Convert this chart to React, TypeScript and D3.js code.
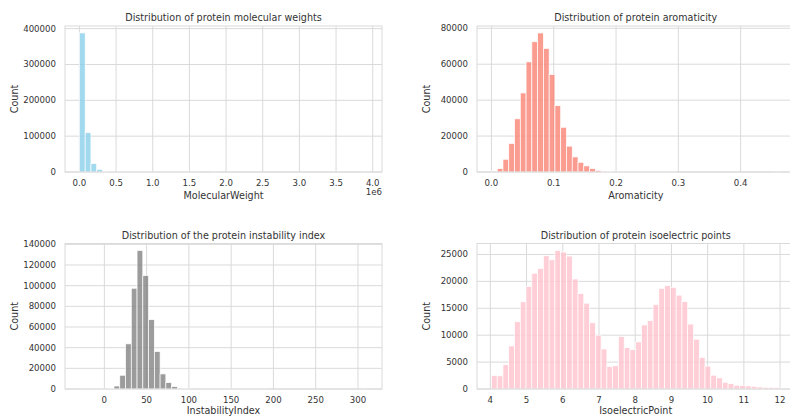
import * as d3 from "d3";

// bin ranges (min, max of the data) and counts per bin, 50 bins each
const mwRange = [0, 3.93e6];
const mwCounts = [
  388000, 110000, 23500, 7500, 1800, 600, 250, 120, 60, 35,
  20, 12, 8, 5, 4, 3, 2, 2, 1, 1,
  1, 0, 0, 1, 0, 0, 0, 0, 0, 0,
  0, 0, 0, 0, 0, 0, 0, 0, 0, 0,
  0, 0, 0, 0, 0, 0, 0, 0, 0, 1,
];

const aroRange = [0, 0.4633];
const aroCounts = [
  500, 1900, 7100, 15900, 29600, 44000, 61300, 72500, 77400, 68800,
  54300, 36900, 24900, 14400, 8400, 5400, 3400, 1900, 900, 450,
  220, 110, 60, 30, 16, 9, 5, 3, 2, 1,
  1, 1, 0, 0, 0, 0, 0, 0, 0, 0,
  0, 0, 0, 0, 0, 0, 0, 0, 0, 1,
];

const instRange = [-29.5, 311.4];
const instCounts = [
  1, 1, 2, 5, 40, 400, 2900, 13300, 43700, 97500,
  134100, 109800, 67100, 36300, 14600, 6200, 2300, 800, 350, 160,
  80, 40, 22, 12, 8, 5, 3, 2, 2, 1,
  1, 1, 1, 0, 0, 0, 0, 0, 0, 0,
  0, 0, 0, 0, 0, 0, 0, 0, 0, 1,
];

const pIRange = [4.03, 12.0];
const pICounts = [
  2500, 2440, 4500, 8000, 12500, 16200, 19060, 21500, 22400, 24750,
  24000, 25750, 25440, 24700, 20440, 17750, 15940, 12300, 10000, 7440,
  4190, 4310, 9750, 7690, 7310, 8750, 11900, 12700, 15700, 18700,
  19200, 18900, 17440, 16250, 12060, 9250, 5875, 4250, 2560, 2060,
  1250, 1000, 690, 625, 560, 500, 375, 310, 300, 250,
];

// ticks
const mwXTicks = [0, 0.5e6, 1e6, 1.5e6, 2e6, 2.5e6, 3e6, 3.5e6, 4e6];
const mwYTicks = [0, 100000, 200000, 300000, 400000];
const aroXTicks = [0, 0.1, 0.2, 0.3, 0.4];
const aroYTicks = [0, 20000, 40000, 60000, 80000];
const instXTicks = [0, 50, 100, 150, 200, 250, 300];
const instYTicks = [0, 20000, 40000, 60000, 80000, 100000, 120000, 140000];
const pIXTicks = [4, 5, 6, 7, 8, 9, 10, 11, 12];
const pIYTicks = [0, 5000, 10000, 15000, 20000, 25000];

const FONT = "DejaVu Sans, sans-serif";
const TEXT = "#333333";
const GRID = "#dadada";

type Box = { left: number; right: number; top: number; bottom: number };

function Histogram(props: {
  box: Box;
  range: number[];
  counts: number[];
  color: string;
  xTicks: number[];
  xFmt: (v: number) => string;
  yTicks: number[];
  title: string;
  xLabel: string;
  labelGap: number;
  offsetLabel?: string;
}) {
  const { box, range, counts, color, xTicks, xFmt, yTicks, title, xLabel, labelGap, offsetLabel } = props;
  const n = counts.length;
  const span = range[1] - range[0];
  const x = d3
    .scaleLinear()
    .domain([range[0] - 0.05 * span, range[1] + 0.05 * span])
    .range([box.left, box.right]);
  const y = d3
    .scaleLinear()
    .domain([0, (d3.max(counts) as number) * 1.05])
    .range([box.bottom, box.top]);
  const edges = d3.range(n + 1).map((i) => range[0] + (i * span) / n);
  const cx = (box.left + box.right) / 2;
  const cy = (box.top + box.bottom) / 2;

  return (
    <g>
      {/* grid */}
      {xTicks.map((t) => (
        <line key={"gx" + t} x1={x(t)} x2={x(t)} y1={box.top} y2={box.bottom} stroke={GRID} strokeWidth={1} />
      ))}
      {yTicks.map((t) => (
        <line key={"gy" + t} x1={box.left} x2={box.right} y1={y(t)} y2={y(t)} stroke={GRID} strokeWidth={1} />
      ))}
      {/* bars */}
      {counts.map((c, i) =>
        c > 0 ? (
          <rect
            key={i}
            x={x(edges[i])}
            y={y(c)}
            width={x(edges[i + 1]) - x(edges[i])}
            height={box.bottom - y(c)}
            fill={color}
            fillOpacity={0.78}
            stroke="#ffffff"
            strokeWidth={0.7}
          />
        ) : null
      )}
      {/* frame */}
      <rect
        x={box.left}
        y={box.top}
        width={box.right - box.left}
        height={box.bottom - box.top}
        fill="none"
        stroke={GRID}
        strokeWidth={1}
      />
      {/* tick labels */}
      {xTicks.map((t) => (
        <text key={"tx" + t} x={x(t)} y={box.bottom + 14} textAnchor="middle" fontSize={8.6} fill={TEXT}>
          {xFmt(t)}
        </text>
      ))}
      {yTicks.map((t) => (
        <text key={"ty" + t} x={box.left - 9} y={y(t) + 3} textAnchor="end" fontSize={8.6} fill={TEXT}>
          {t}
        </text>
      ))}
      <text x={cx} y={box.top - 5} textAnchor="middle" fontSize={9.6} fill={TEXT}>
        {title}
      </text>
      <text x={cx} y={box.bottom + labelGap} textAnchor="middle" fontSize={9.6} fill={TEXT}>
        {xLabel}
      </text>
      <text
        transform={`translate(${box.left - 47},${cy}) rotate(-90)`}
        textAnchor="middle"
        fontSize={9.6}
        fill={TEXT}
      >
        Count
      </text>
      {offsetLabel ? (
        <text x={box.right} y={box.bottom + 23} textAnchor="end" fontSize={8.6} fill={TEXT}>
          {offsetLabel}
        </text>
      ) : null}
    </g>
  );
}

export default function App() {
  const f1 = (v: number) => (v / 1e6).toFixed(1);
  const fd1 = (v: number) => v.toFixed(1);
  const f0 = (v: number) => String(v);
  return (
    <svg
      width={790}
      height={416}
      style={{ position: "absolute", left: 0, top: 0, background: "#ffffff" }}
      fontFamily={FONT}
    >
      <rect x={0} y={0} width={790} height={416} fill="#ffffff" />
      <Histogram
        box={{ left: 65, right: 382, top: 26, bottom: 172 }}
        range={mwRange}
        counts={mwCounts}
        color="#87CEEB"
        xTicks={mwXTicks}
        xFmt={f1}
        yTicks={mwYTicks}
        title="Distribution of protein molecular weights"
        xLabel="MolecularWeight"
        labelGap={27}
        offsetLabel="1e6"
      />
      <Histogram
        box={{ left: 477, right: 794.5, top: 26, bottom: 172 }}
        range={aroRange}
        counts={aroCounts}
        color="#FA8072"
        xTicks={aroXTicks}
        xFmt={fd1}
        yTicks={aroYTicks}
        title="Distribution of protein aromaticity"
        xLabel="Aromaticity"
        labelGap={27}
      />
      <Histogram
        box={{ left: 65, right: 382, top: 243.5, bottom: 389 }}
        range={instRange}
        counts={instCounts}
        color="#808080"
        xTicks={instXTicks}
        xFmt={f0}
        yTicks={instYTicks}
        title="Distribution of the protein instability index"
        xLabel="InstabilityIndex"
        labelGap={24.5}
      />
      <Histogram
        box={{ left: 477, right: 794.5, top: 243.5, bottom: 389 }}
        range={pIRange}
        counts={pICounts}
        color="#FFC0CB"
        xTicks={pIXTicks}
        xFmt={f0}
        yTicks={pIYTicks}
        title="Distribution of protein isoelectric points"
        xLabel="IsoelectricPoint"
        labelGap={24.5}
      />
    </svg>
  );
}
